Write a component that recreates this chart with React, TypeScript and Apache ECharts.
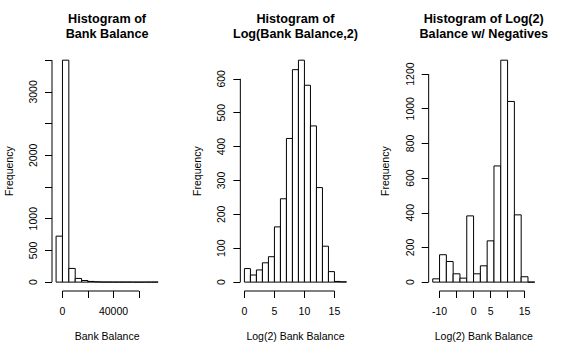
import React, { useEffect, useRef } from "react";
import * as echarts from "echarts";

// Panel 1: Bank Balance
const breaks1 = [-5000, 0, 5000, 10000, 15000, 20000, 25000, 30000, 35000, 40000, 45000, 50000, 55000, 60000, 65000, 70000, 75000];
const counts1 = [725, 3500, 216, 58, 25, 11, 5, 2, 2, 1, 1, 1, 0, 0, 1, 1];
const xTicks1 = [0, 20000, 40000, 60000];
const xLabels1 = [0, 40000];
const yTicks1 = [0, 500, 1000, 1500, 2000, 2500, 3000, 3500];
const yLabels1 = [0, 500, 1000, 2000, 3000];

// Panel 2: Log2 of positive balances
const breaks2 = [0, 1, 2, 3, 4, 5, 6, 7, 8, 9, 10, 11, 12, 13, 14, 15, 16, 17];
const counts2 = [40, 21, 36, 57, 75, 163, 246, 424, 627, 655, 581, 461, 279, 106, 31, 2, 1];
const xTicks2 = [0, 5, 10, 15];
const xLabels2 = [0, 5, 10, 15];
const yTicks2 = [0, 100, 200, 300, 400, 500, 600];
const yLabels2 = [0, 100, 200, 300, 400, 500, 600];

// Panel 3: Log2 with negatives
const breaks3 = [-12, -10, -8, -6, -4, -2, 0, 2, 4, 6, 8, 10, 12, 14, 16, 18];
const counts3 = [19, 158, 119, 48, 23, 382, 48, 94, 238, 670, 1280, 1042, 388, 31, 0];
const xTicks3 = [-10, -5, 0, 5, 10, 15];
const xLabels3 = [-10, 0, 5, 15];
const yTicks3 = [0, 200, 400, 600, 800, 1000, 1200];
const yLabels3 = [0, 200, 400, 600, 800, 1000, 1200];

const titles = [
  "Histogram of\nBank Balance",
  "Histogram of\nLog(Bank Balance,2)",
  "Histogram of Log(2)\nBalance w/ Negatives",
];
const xNames = ["Bank Balance", "Log(2) Bank Balance", "Log(2) Bank Balance"];
const yName = "Frequency";

const FONT = "'Liberation Sans', Arial, Helvetica, sans-serif";

const panels = [
  { breaks: breaks1, counts: counts1, xTicks: xTicks1, xLabels: xLabels1, yTicks: yTicks1, yLabels: yLabels1 },
  { breaks: breaks2, counts: counts2, xTicks: xTicks2, xLabels: xLabels2, yTicks: yTicks2, yLabels: yLabels2 },
  { breaks: breaks3, counts: counts3, xTicks: xTicks3, xLabels: xLabels3, yTicks: yTicks3, yLabels: yLabels3 },
];

export default function App() {
  const ref = useRef<HTMLDivElement>(null);
  useEffect(() => {
    if (!ref.current) return;
    const chart = echarts.init(ref.current, null, { renderer: "svg" });
    const panelW = 565 / 3;
    const gridLeft0 = 52;
    const gridW = 110.2;
    const gridTop = 51.3;
    const gridH = 239.7;

    const grids: any[] = [];
    const xAxes: any[] = [];
    const yAxes: any[] = [];
    const series: any[] = [];
    const graphics: any[] = [];

    panels.forEach((p, i) => {
      const bmin = p.breaks[0];
      const bmax = p.breaks[p.breaks.length - 1];
      const xr = bmax - bmin;
      const xmin = bmin - 0.04 * xr;
      const xmax = bmax + 0.04 * xr;
      const cmax = Math.max(...p.counts);
      const ymin = -0.04 * cmax;
      const ymax = 1.04 * cmax;
      const left = gridLeft0 + i * panelW;
      grids.push({ left, top: gridTop, width: gridW, height: gridH, containLabel: false });
      xAxes.push({
        type: "value",
        gridIndex: i,
        min: xmin,
        max: xmax,
        axisLine: { show: false, onZero: false },
        splitLine: { show: false },
        axisTick: {
          show: true,
          length: 7,
          customValues: p.xTicks,
          lineStyle: { color: "#000", width: 1 },
        },
        axisLabel: {
          show: true,
          customValues: p.xLabels,
          formatter: (v: number) => String(v),
          fontSize: 10.5,
          fontFamily: FONT,
          color: "#000",
          margin: 14,
        },
        name: xNames[i],
        nameLocation: "middle",
        nameGap: 39.5,
        nameTextStyle: { fontSize: 10.5, fontFamily: FONT, color: "#000" },
      });
      yAxes.push({
        type: "value",
        gridIndex: i,
        min: ymin,
        max: ymax,
        axisLine: { show: false, onZero: false },
        splitLine: { show: false },
        axisTick: {
          show: true,
          length: 7,
          customValues: p.yTicks,
          lineStyle: { color: "#000", width: 1 },
        },
        axisLabel: {
          show: true,
          customValues: p.yLabels,
          rotate: 90,
          formatter: (v: number) => String(v),
          fontSize: 10.5,
          fontFamily: FONT,
          color: "#000",
          margin: 13.5,
        },
        name: yName,
        nameLocation: "middle",
        nameGap: 38,
        nameTextStyle: { fontSize: 10.5, fontFamily: FONT, color: "#000" },
      });

      const barData = p.counts.map((c, k) => [p.breaks[k], p.breaks[k + 1], c]);
      series.push({
        type: "custom",
        xAxisIndex: i,
        yAxisIndex: i,
        data: barData,
        clip: false,
        renderItem: (params: any, api: any) => {
          const a = api.coord([api.value(0), 0]);
          const b = api.coord([api.value(1), api.value(2)]);
          return {
            type: "rect",
            shape: { x: a[0], y: b[1], width: b[0] - a[0], height: a[1] - b[1] },
            style: { fill: "#fff", stroke: "#000", lineWidth: 1 },
          };
        },
      });

      const xt0 = p.xTicks[0];
      const xt1 = p.xTicks[p.xTicks.length - 1];
      const yt0 = p.yTicks[0];
      const yt1 = p.yTicks[p.yTicks.length - 1];
      series.push({
        type: "custom",
        xAxisIndex: i,
        yAxisIndex: i,
        clip: false,
        data: [
          [xt0, ymin, xt1, ymin],
          [xmin, yt0, xmin, yt1],
        ],
        renderItem: (params: any, api: any) => {
          const a = api.coord([api.value(0), api.value(1)]);
          const b = api.coord([api.value(2), api.value(3)]);
          return {
            type: "line",
            shape: { x1: a[0], y1: a[1], x2: b[0], y2: b[1] },
            style: { stroke: "#000", lineWidth: 1 },
          };
        },
      });

      graphics.push({
        type: "text",
        x: left + gridW / 2,
        y: 11.7,
        style: {
          text: titles[i],
          textAlign: "center",
          textVerticalAlign: "top",
          font: `bold 12.65px ${FONT}`,
          lineHeight: 14.7,
          fill: "#000",
        },
      });
    });

    chart.setOption({
      animation: false,
      backgroundColor: "#fff",
      grid: grids,
      xAxis: xAxes,
      yAxis: yAxes,
      series,
      graphic: graphics,
    });
    return () => chart.dispose();
  }, []);
  return (
    <div
      ref={ref}
      style={{ position: "fixed", left: 0, top: 0, width: 565, height: 356 }}
    />
  );
}
